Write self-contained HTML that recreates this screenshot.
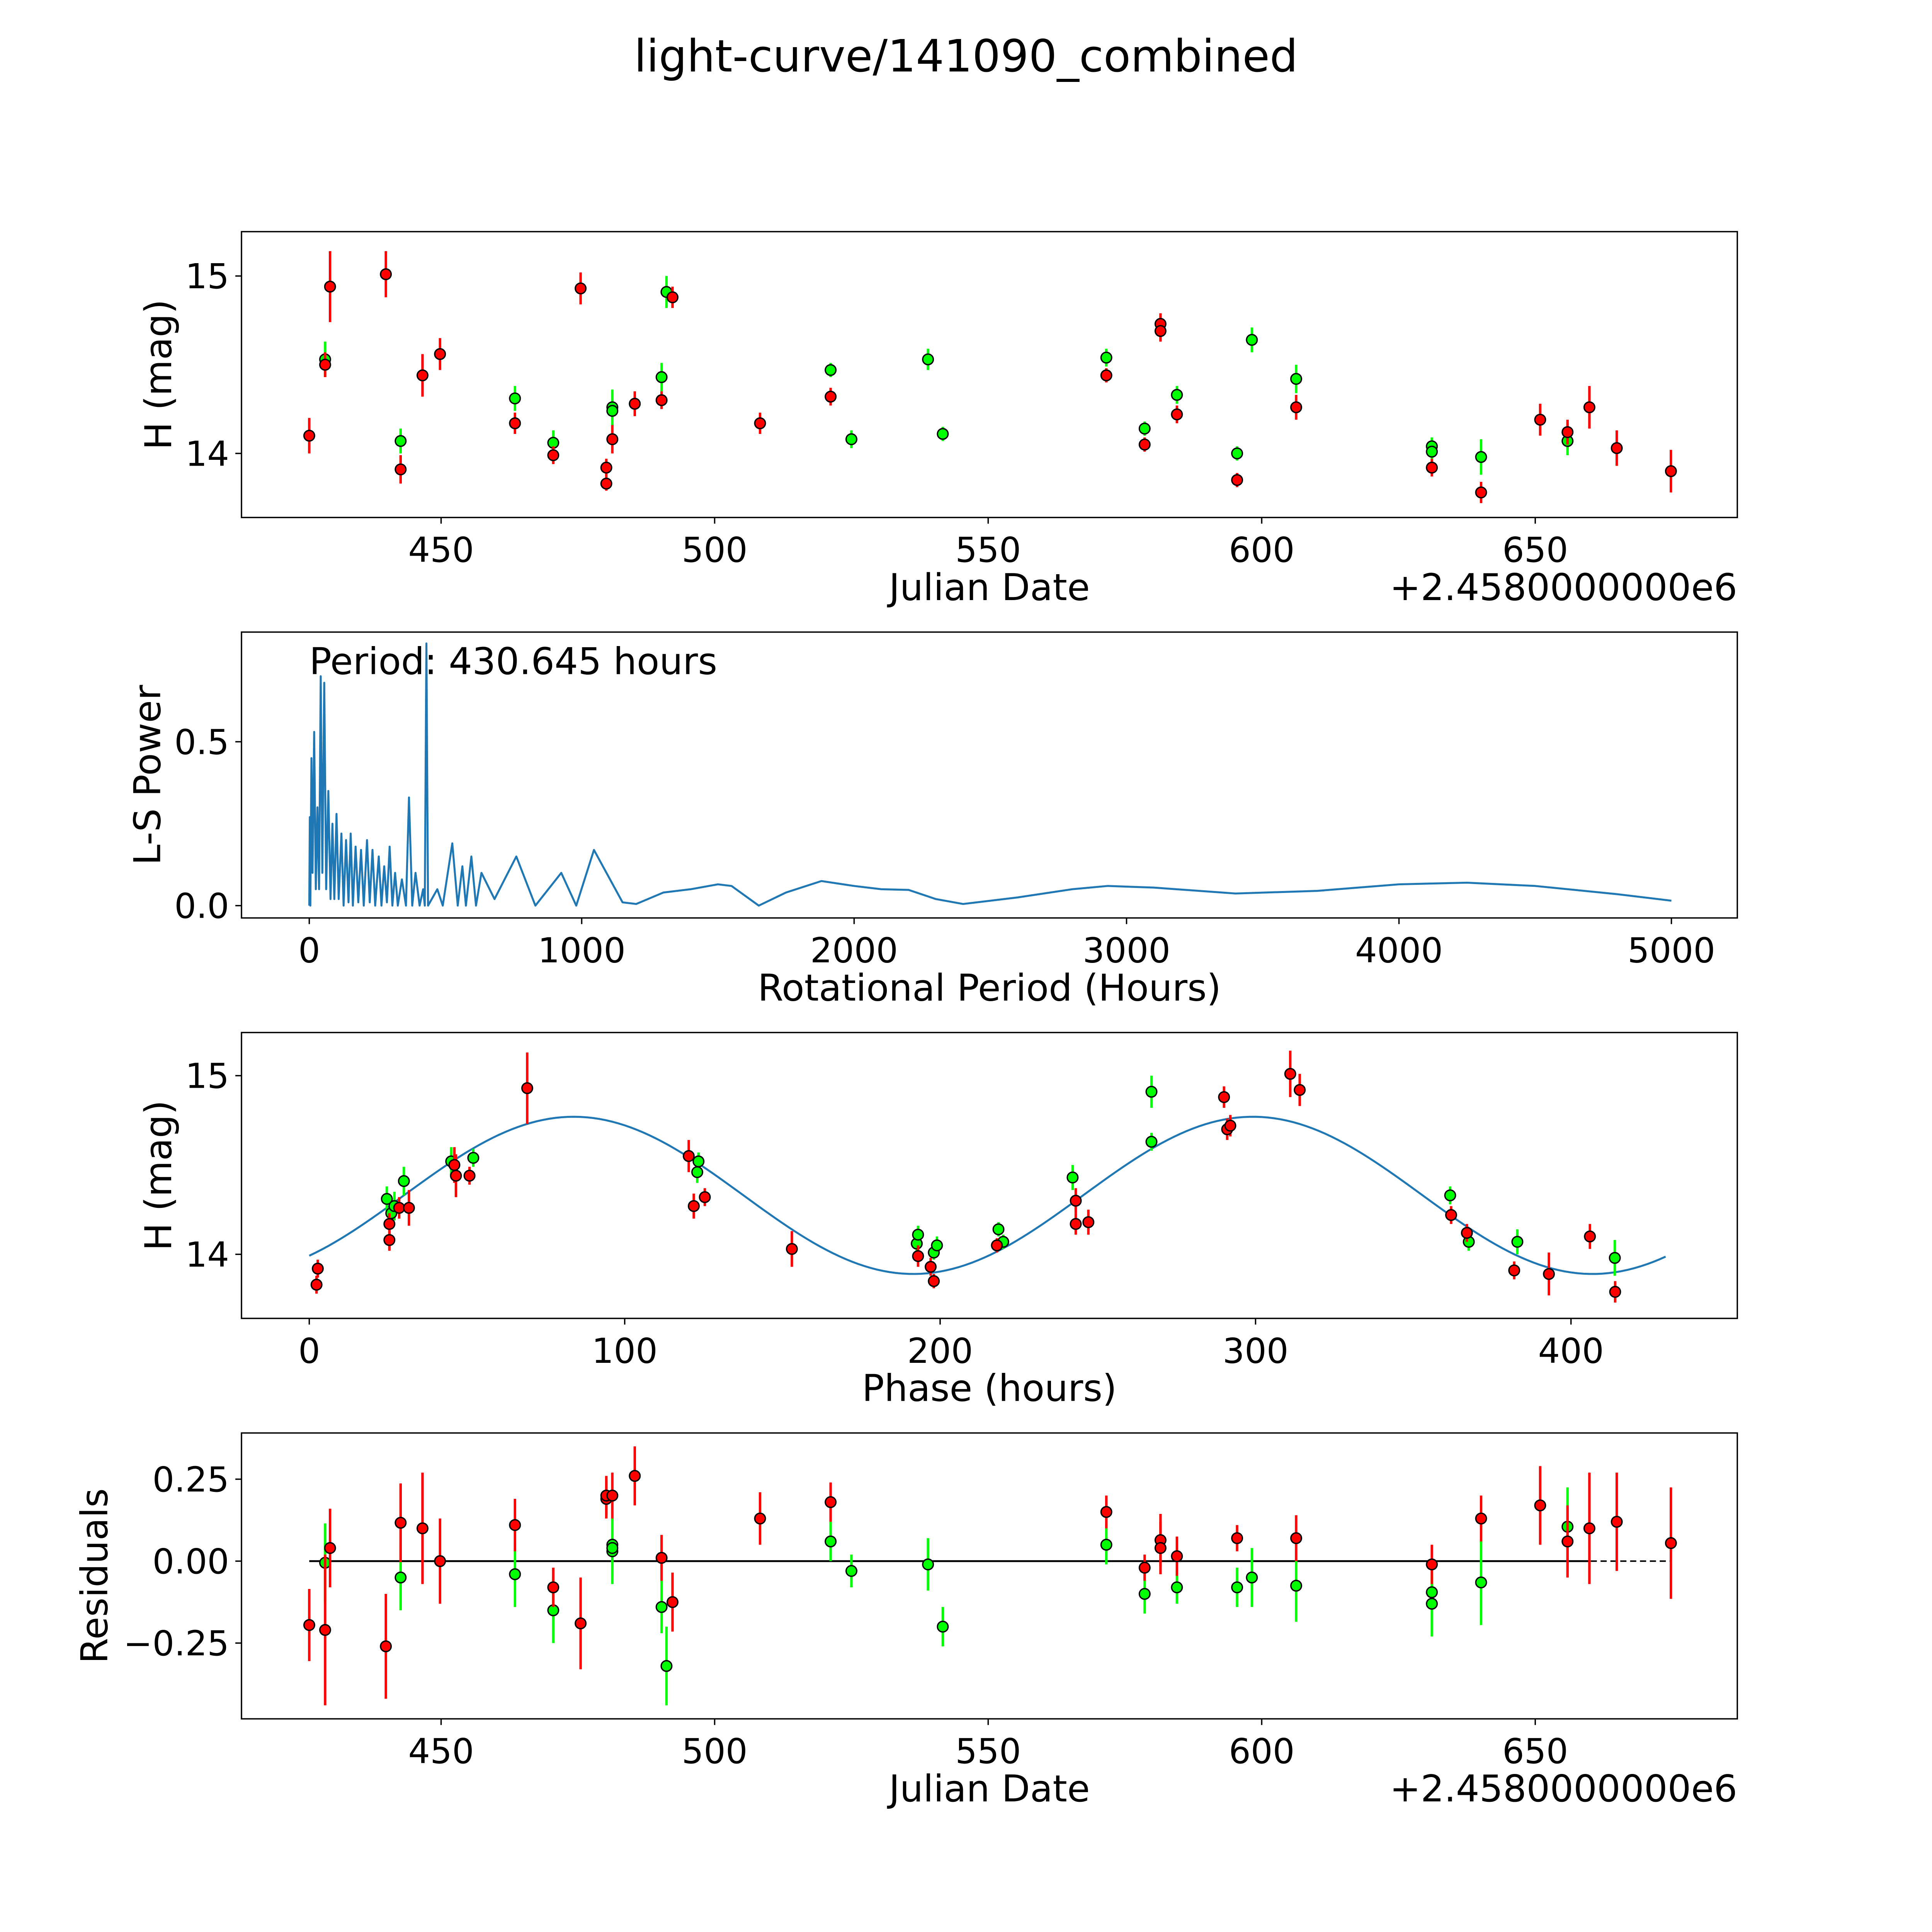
<!DOCTYPE html>
<html><head><meta charset="utf-8">
<style>
html,body{margin:0;padding:0;background:#fff;width:100%;height:100%;overflow:hidden}
svg{display:block;width:100vw;height:100vh}
text{font-family:"DejaVu Sans","Liberation Sans",sans-serif;fill:#000}
</style></head><body>
<svg id="fig" xmlns="http://www.w3.org/2000/svg" viewBox="0 0 1568 1568" preserveAspectRatio="xMinYMin meet">
<rect width="1568" height="1568" fill="#fff"/>
<text x="784" y="58" font-size="36" text-anchor="middle">light-curve/141090_combined</text>
</svg>
<script>
// ---- Panel 1 data: JD offset, magnitude, error ----
const lcRedJd=[425.9,429.7,428.8,439.9,442.6,446.6,449.8,463.5,470.5,475.5,480.2,480.2,481.3,485.4,490.3,492.3,508.3,521.2,571.6,578.6,581.5,581.5,584.5,595.5,606.3,631.1,640.1,650.9,655.9,659.9,664.9,674.8];
const lcRedMag=[14.10,14.94,14.50,15.01,13.91,14.44,14.56,14.17,13.99,14.93,13.92,13.83,14.08,14.28,14.30,14.88,14.17,14.32,14.44,14.05,14.73,14.69,14.22,13.85,14.26,13.92,13.78,14.19,14.12,14.26,14.03,13.90];
const lcRedErr=[0.1,0.2,0.07,0.13,0.08,0.12,0.09,0.06,0.05,0.09,0.05,0.04,0.08,0.07,0.05,0.06,0.06,0.05,0.04,0.04,0.06,0.06,0.05,0.04,0.07,0.05,0.06,0.09,0.07,0.12,0.1,0.12];
const lcGrnJd=[428.8,442.6,463.5,470.5,481.3,481.3,490.3,491.2,521.2,525.0,539.0,541.7,571.6,578.6,584.5,595.5,598.2,606.3,631.1,631.1,640.1,655.9];
const lcGrnMag=[14.53,14.07,14.31,14.06,14.26,14.24,14.43,14.91,14.47,14.08,14.53,14.11,14.54,14.14,14.33,14.00,14.64,14.42,14.04,14.01,13.98,14.07];
const lcGrnErr=[0.1,0.07,0.07,0.07,0.1,0.1,0.08,0.09,0.04,0.05,0.06,0.04,0.05,0.04,0.05,0.04,0.07,0.08,0.05,0.05,0.1,0.08];
// ---- Panel 2 data: periodogram ----
const lsPeriod=[0,2,4,8,12,18,24,30,36,42,48,55,62,70,78,85,92,100,108,118,126,135,144,152,160,170,180,190,200,212,222,232,242,255,265,275,285,295,305,315,325,340,355,366,378,390,405,418,424,430,436,470,490,525,545,562,575,595,612,632,680,760,830,925,980,1045,1150,1200,1300,1400,1500,1550,1650,1750,1880,2000,2100,2200,2300,2400,2600,2800,2930,3100,3400,3700,4000,4250,4500,4800,5000];
const lsPower=[0,0.27,0,0.45,0.1,0.53,0.05,0.3,0.05,0.7,0.1,0.68,0.05,0.35,0.02,0.25,0.02,0.28,0.02,0.22,0,0.2,0.01,0.22,0,0.18,0.01,0.17,0,0.2,0.01,0.17,0,0.15,0,0.12,0.01,0.18,0,0.1,0,0.08,0,0.33,0,0.1,0,0.05,0,0.8,0,0.05,0,0.19,0,0.12,0,0.15,0,0.1,0.02,0.15,0,0.1,0,0.17,0.01,0.005,0.04,0.05,0.065,0.06,0.0,0.04,0.075,0.06,0.05,0.048,0.02,0.005,0.025,0.05,0.06,0.055,0.037,0.045,0.065,0.07,0.06,0.035,0.015];
// ---- Panel 3 data: phase (hours), mag, err ----
const phRedX=[2.3,2.7,25.4,25.4,28.5,31.6,46,46.5,50.8,69.1,120.3,121.9,125.4,153,193,197,198,218,243,243,247,290,291,292,311,314,362,367,382,393,406,414];
const phRedMag=[13.83,13.92,14.08,14.17,14.26,14.26,14.50,14.44,14.44,14.93,14.55,14.27,14.32,14.03,13.99,13.93,13.85,14.05,14.30,14.17,14.18,14.88,14.70,14.72,15.01,14.92,14.22,14.12,13.91,13.89,14.10,13.79];
const phRedErr=[0.05,0.05,0.06,0.06,0.06,0.1,0.1,0.12,0.05,0.2,0.09,0.07,0.05,0.1,0.06,0.05,0.04,0.04,0.07,0.06,0.07,0.06,0.06,0.06,0.13,0.09,0.05,0.05,0.05,0.12,0.07,0.06];
const phGrnX=[24.6,26,27,30,45,52,123.4,123,192.6,193,198,199,218.5,220,242,267,267,361.7,367.6,383,413.9];
const phGrnMag=[14.31,14.23,14.27,14.41,14.52,14.54,14.52,14.46,14.06,14.11,14.01,14.05,14.14,14.07,14.43,14.63,14.91,14.33,14.07,14.07,13.98];
const phGrnErr=[0.07,0.07,0.08,0.08,0.08,0.05,0.05,0.06,0.05,0.05,0.04,0.05,0.04,0.04,0.07,0.05,0.09,0.05,0.05,0.07,0.1];
const fitMean=[14.33], fitAmp=[0.44], fitShift=[30], fitPeriod=[215.32], phaseMax=[430.645];
// ---- Panel 4 data: residuals ----
const resRedJd=lcRedJd.slice();
const resRedVal=[-0.195,0.04,-0.21,-0.26,0.117,0.1,0,0.11,-0.08,-0.19,0.19,0.2,0.2,0.26,0.01,-0.125,0.13,0.18,0.15,-0.02,0.064,0.04,0.015,0.07,0.07,-0.01,0.13,0.17,0.06,0.10,0.12,0.055];
const resRedErr=[0.11,0.12,0.23,0.16,0.12,0.17,0.13,0.08,0.06,0.14,0.06,0.06,0.07,0.09,0.07,0.09,0.08,0.06,0.05,0.04,0.08,0.08,0.06,0.04,0.07,0.06,0.07,0.12,0.11,0.17,0.15,0.17];
const resGrnJd=[428.8,442.6,463.5,470.5,481.3,481.3,481.3,490.3,491.2,521.2,525.0,539.0,541.7,571.6,578.6,584.5,595.5,598.2,606.3,631.1,631.1,640.1,655.9];
const resGrnVal=[-0.005,-0.05,-0.04,-0.15,0.05,0.03,0.04,-0.14,-0.32,0.06,-0.03,-0.01,-0.2,0.05,-0.1,-0.08,-0.08,-0.05,-0.075,-0.095,-0.13,-0.065,0.105];
const resGrnErr=[0.12,0.1,0.1,0.1,0.1,0.1,0.1,0.08,0.12,0.06,0.05,0.08,0.06,0.06,0.06,0.05,0.06,0.09,0.11,0.05,0.1,0.13,0.12];
const jdTicks=[450,500,550,600,650];
const lsXTicks=[0,1000,2000,3000,4000,5000];
const lsYTicks=[0.0,0.5];
const phXTicks=[0,100,200,300,400];
const magTicks=[14,15];
const resTicks=[0.25,0,-0.25];

const NS="http://www.w3.org/2000/svg";
const svg=document.getElementById('fig');
function mk(tag,attrs,parent){const e=document.createElementNS(NS,tag);for(const k in attrs)e.setAttribute(k,attrs[k]);(parent||svg).appendChild(e);return e;}
const L=196,R=1410;
const xJd=v=>358+(v-450)*4.44;
const xLs=v=>251+v*0.2211;
const xPh=v=>251+v*2.56;
const yMag1=v=>224+(15-v)*144;
const yLs=v=>735-v*266;
const yMag3=v=>873+(15-v)*145;
const yRes=v=>1267-v*266;
const fmtRes=v=>(v<0?'\u2212':'')+Math.abs(v).toFixed(2);
const TF=28, LF=30;

function panel(name,top,bot,xt,xf,xfmt,yt,yf,yfmt,xlabel,ylabel,ylx,offset){
  const g=mk('g',{});
  
  
  const fr=mk('rect',{x:L,y:top,width:R-L,height:bot-top,fill:'none',stroke:'#000','stroke-width':1.1},g);
  
  
  xt.forEach(v=>{const x=xf(v);
    const t=mk('line',{x1:x,x2:x,y1:bot,y2:bot+5,stroke:'#000','stroke-width':1.1},g);
    
    
    const l=mk('text',{x:x,y:bot+36,'font-size':TF,'text-anchor':'middle'},g);l.textContent=xfmt(v);
    
    
  });
  yt.forEach(v=>{const y=yf(v);
    const t=mk('line',{x1:L-5,x2:L,y1:y,y2:y,stroke:'#000','stroke-width':1.1},g);
    
    
    const l=mk('text',{x:L-10,y:y+10,'font-size':TF,'text-anchor':'end'},g);l.textContent=yfmt(v);
    
    
  });
  const xl=mk('text',{x:803,y:bot+67,'font-size':LF,'text-anchor':'middle'},g);xl.textContent=xlabel;
  
  
  const cy=(top+bot)/2;
  const yl=mk('text',{x:ylx,y:cy,'font-size':LF,'text-anchor':'middle',transform:`rotate(-90 ${ylx} ${cy})`},g);yl.textContent=ylabel;
  
  
  if(offset){const o=mk('text',{x:R,y:bot+67,'font-size':LF,'text-anchor':'end'},g);o.textContent='+2.4580000000e6';
    
    }
  return g;
}
function points(xs,ys,es,xf,yf,color,name){
  const g=mk('g',{});
  
  
  xs.forEach((xv,i)=>{const x=xf(xv),y=yf(ys[i]),d=Math.abs(yf(ys[i]+es[i])-y);
    const b=mk('line',{x1:x,x2:x,y1:y-d,y2:y+d,stroke:color,'stroke-width':2},g);
    
    
  });
  xs.forEach((xv,i)=>{
    const c=mk('circle',{cx:xf(xv),cy:yf(ys[i]),r:4.3,fill:color,stroke:'#000','stroke-width':1.1},g);
    
    
  });
}
// Panel 1
panel('light-curve-panel',188,420,jdTicks,xJd,v=>String(v),magTicks,yMag1,v=>String(v),'Julian Date','H (mag)',139,true);
points(lcGrnJd,lcGrnMag,lcGrnErr,xJd,yMag1,'#00ff00','light-curve-green');
points(lcRedJd,lcRedMag,lcRedErr,xJd,yMag1,'#ff0000','light-curve-red');
// Panel 2
panel('periodogram-panel',513,745,lsXTicks,xLs,v=>String(v),lsYTicks,yLs,v=>v.toFixed(1),'Rotational Period (Hours)','L-S Power',130,false);
const pl=mk('polyline',{points:lsPeriod.map((p,i)=>xLs(p).toFixed(2)+','+yLs(lsPower[i]).toFixed(2)).join(' '),fill:'none',stroke:'#1f77b4','stroke-width':1.6,'stroke-linejoin':'round'});


const pt=mk('text',{x:251,y:547,'font-size':30});pt.textContent='Period: 430.645 hours';


// Panel 3
panel('phase-panel',838,1070,phXTicks,xPh,v=>String(v),magTicks,yMag3,v=>String(v),'Phase (hours)','H (mag)',139,false);
const fp=[];for(let t=0;t<=phaseMax[0];t+=2){fp.push(xPh(t).toFixed(2)+','+yMag3(fitMean[0]+fitAmp[0]*Math.sin(2*Math.PI*(t-fitShift[0])/fitPeriod[0])).toFixed(2));}
const fl=mk('polyline',{points:fp.join(' '),fill:'none',stroke:'#1f77b4','stroke-width':1.6});


points(phGrnX,phGrnMag,phGrnErr,xPh,yMag3,'#00ff00','phase-green');
points(phRedX,phRedMag,phRedErr,xPh,yMag3,'#ff0000','phase-red');
// Panel 4
panel('residuals-panel',1163,1395,jdTicks,xJd,v=>String(v),resTicks,yRes,fmtRes,'Julian Date','Residuals',87,true);
const zl=mk('line',{x1:251,x2:1290,y1:yRes(0),y2:yRes(0),stroke:'#000','stroke-width':1.5});


const zd=mk('line',{x1:251,x2:1356,y1:yRes(0),y2:yRes(0),stroke:'#000','stroke-width':1.2,'stroke-dasharray':'5,3'});


points(resGrnJd,resGrnVal,resGrnErr,xJd,yRes,'#00ff00','residuals-green');
points(resRedJd,resRedVal,resRedErr,xJd,yRes,'#ff0000','residuals-red');
</script>
</body></html>
